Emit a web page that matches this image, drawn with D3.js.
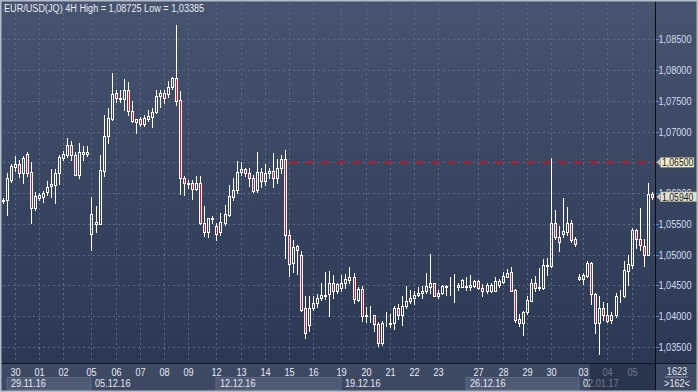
<!DOCTYPE html>
<html><head><meta charset="utf-8">
<script src="https://cdn.jsdelivr.net/npm/d3@7"></script>
<style>
html,body{margin:0;padding:0;background:#3e4a63;}
svg{display:block;}
text{font-family:"Liberation Sans",Arial,sans-serif;}
</style></head><body>
<svg id="c" width="698" height="392"></svg>
<script>
// ---- data (EUR/USD 4H candles) ----
const opens = [1.0587,1.0589,1.0621,1.0643,1.0647,1.0632,1.0663,1.0634,1.0576,1.0597,
1.0593,1.0601,1.0612,1.0613,1.0632,1.0657,1.0662,1.0678,1.0662,1.0629,
1.0663,1.0663,1.0533,1.0550,1.0550,1.0636,1.0692,1.0720,1.0762,1.0753,
1.0753,1.0768,1.0733,1.0716,1.0720,1.0712,1.0720,1.0724,1.0731,1.0757,
1.0762,1.0761,1.0772,1.0787,1.0751,1.0624,1.0615,1.0617,1.0606,1.0617,
1.0551,1.0537,1.0558,1.0546,1.0536,1.0552,1.0564,1.0594,1.0605,1.0634,
1.0639,1.0633,1.0624,1.0605,1.0634,1.0620,1.0632,1.0636,1.0625,1.0640,
1.0655,1.0531,1.0486,1.0514,1.0499,1.0413,1.0385,1.0413,1.0421,1.0429,
1.0433,1.0436,1.0454,1.0440,1.0445,1.0453,1.0459,1.0463,1.0426,1.0444,
1.0400,1.0401,1.0401,1.0387,1.0356,1.0388,1.0387,1.0389,1.0413,1.0401,
1.0417,1.0424,1.0430,1.0434,1.0437,1.0440,1.0448,1.0453,1.0433,1.0437,
1.0448,1.0447,1.0447,1.0447,1.0448,1.0447,1.0448,1.0449,1.0457,1.0445,
1.0440,1.0441,1.0441,1.0451,1.0455,1.0464,1.0471,1.0442,1.0396,1.0388,
1.0407,1.0425,1.0454,1.0445,1.0446,1.0482,1.0481,1.0551,1.0528,1.0533,
1.0537,1.0551,1.0525,1.0464,1.0460,1.0465,1.0487,1.0436,1.0389,1.0413,
1.0402,1.0393,1.0401,1.0432,1.0432,1.0474,1.0483,1.0540,1.0525,1.0514,
1.0500,1.0598];
const highs = [1.0592,1.0632,1.0648,1.0660,1.0654,1.0660,1.0666,1.0651,1.0601,1.0600,
1.0603,1.0619,1.0639,1.0639,1.0662,1.0668,1.0689,1.0685,1.0666,1.0681,
1.0677,1.0677,1.0594,1.0579,1.0662,1.0727,1.0738,1.0796,1.0767,1.0768,
1.0785,1.0781,1.0750,1.0721,1.0723,1.0727,1.0735,1.0738,1.0768,1.0767,
1.0767,1.0782,1.0789,1.08725,1.0766,1.0628,1.0621,1.0621,1.0627,1.0628,
1.0579,1.0560,1.0562,1.0551,1.0568,1.0581,1.0613,1.0624,1.0652,1.0651,
1.0641,1.0640,1.0630,1.0666,1.0640,1.0647,1.0640,1.0665,1.0655,1.0662,
1.0670,1.0540,1.0524,1.0515,1.0505,1.0432,1.0432,1.0432,1.0436,1.0454,
1.0472,1.0473,1.0467,1.0454,1.0467,1.0468,1.0480,1.0470,1.0448,1.0449,
1.0414,1.0417,1.0402,1.0391,1.0392,1.0407,1.0403,1.0417,1.0420,1.0432,
1.0449,1.0442,1.0441,1.0448,1.0449,1.0470,1.0501,1.0454,1.0442,1.0450,
1.0451,1.0464,1.0468,1.0454,1.0460,1.0464,1.0467,1.0459,1.0458,1.0452,
1.0454,1.0453,1.0464,1.0460,1.0472,1.0476,1.0479,1.0444,1.0404,1.0409,
1.0433,1.0460,1.0465,1.0478,1.0493,1.0494,1.0657,1.0572,1.0546,1.0592,
1.0577,1.0556,1.0529,1.0468,1.0470,1.0490,1.0488,1.0437,1.0432,1.0423,
1.0422,1.0407,1.0438,1.0442,1.0490,1.0500,1.0543,1.0541,1.0575,1.0525,
1.0617,1.0601];
const lows = [1.0584,1.0564,1.0618,1.0636,1.0626,1.0617,1.0628,1.0551,1.0573,1.0589,
1.0586,1.0597,1.0594,1.0584,1.0615,1.0654,1.0659,1.0654,1.0629,1.0625,
1.0654,1.0660,1.0507,1.0536,1.0549,1.0628,1.0682,1.0719,1.0748,1.0748,
1.0735,1.0727,1.0716,1.0697,1.0709,1.0709,1.0717,1.0708,1.0730,1.0740,
1.0747,1.0756,1.0770,1.0743,1.0598,1.0597,1.0608,1.0590,1.0605,1.0550,
1.0530,1.0528,1.0551,1.0524,1.0532,1.0548,1.0562,1.0589,1.0600,1.0629,
1.0627,1.0612,1.0602,1.0602,1.0610,1.0613,1.0624,1.0610,1.0617,1.0632,
1.0494,1.0465,1.0472,1.0469,1.0409,1.0365,1.0376,1.0410,1.0414,1.0426,
1.0427,1.0400,1.0429,1.0438,1.0440,1.0445,1.0454,1.0422,1.0425,1.0392,
1.0391,1.0391,1.0375,1.0352,1.0353,1.0384,1.0383,1.0379,1.0396,1.0385,
1.0413,1.0421,1.0420,1.0433,1.0430,1.0437,1.0437,1.0432,1.0429,1.0436,
1.0435,1.0434,1.0423,1.0442,1.0447,1.0442,1.0443,1.0448,1.0444,1.0432,
1.0437,1.0439,1.0440,1.0448,1.0453,1.0463,1.0440,1.0391,1.0384,1.0370,
1.0404,1.0424,1.0440,1.0443,1.0444,1.0467,1.0479,1.0526,1.0506,1.0529,
1.0532,1.0521,1.0514,1.0459,1.0452,1.0464,1.0420,1.0373,1.03385,1.0394,
1.0390,1.0389,1.0399,1.0423,1.0431,1.0450,1.0478,1.0510,1.0507,1.0481,
1.0499,1.0590];
const closes = [1.0589,1.0624,1.0644,1.0647,1.0632,1.0657,1.0633,1.0576,1.0595,1.0592,
1.0600,1.0610,1.0615,1.0632,1.0659,1.0663,1.0678,1.0662,1.0630,1.0666,
1.0667,1.0666,1.0566,1.0553,1.0637,1.0692,1.0722,1.0761,1.0754,1.0754,
1.0768,1.0733,1.0717,1.0720,1.0713,1.0722,1.0725,1.0731,1.0758,1.0763,
1.0754,1.0773,1.0787,1.0750,1.0624,1.0616,1.0617,1.0606,1.0617,1.0551,
1.0537,1.0559,1.0559,1.0534,1.0553,1.0566,1.0595,1.0605,1.0634,1.0639,
1.0632,1.0624,1.0604,1.0634,1.0619,1.0632,1.0636,1.0625,1.0640,1.0655,
1.0531,1.0484,1.0512,1.0508,1.0410,1.0372,1.0413,1.0422,1.0429,1.0434,
1.0434,1.0453,1.0440,1.0452,1.0454,1.0460,1.0463,1.0427,1.0444,1.0400,
1.0402,1.0402,1.0387,1.0356,1.0389,1.0389,1.0389,1.0413,1.0401,1.0417,
1.0425,1.0429,1.0434,1.0437,1.0441,1.0449,1.0453,1.0433,1.0438,1.0449,
1.0449,1.0448,1.0448,1.0451,1.0459,1.0449,1.0451,1.0457,1.0445,1.0440,
1.0451,1.0451,1.0457,1.0457,1.0465,1.0470,1.0441,1.0394,1.0388,1.0407,
1.0426,1.0454,1.0445,1.0448,1.0483,1.0483,1.0551,1.0528,1.0521,1.0538,
1.0551,1.0524,1.0517,1.0460,1.0467,1.0487,1.0436,1.0388,1.0413,1.0401,
1.0392,1.0402,1.0433,1.0433,1.0475,1.0484,1.0540,1.0526,1.0516,1.0500,
1.0598,1.0594];

const priceTicks = [1.035,1.040,1.045,1.050,1.055,1.060,1.070,1.075,1.080,1.085];
const gridPrices = [1.035,1.040,1.045,1.050,1.055,1.060,1.065,1.070,1.075,1.080,1.085];
const dayTickIdx = [3,9,15,22,28,34,40,46,53,59,65,71,77,84,90,96,102,108,118,124,130,136,144,150,156];
const dayTickLbl = ["30","01","02","05","06","07","08","09","12","13","14","15","16","19","20","21","22","23","27","28","29","30","03","04","05"];
const weekStartIdx = [1,22,53,84,115,143];
const weekLbl = ["29.11.16","05.12.16","12.12.16","19.12.16","26.12.16","02.01.17"];
const levelPrice = 1.065, levelStartIdx = 71;
const lastPrice = 1.0594;
const shadeStartIdx = 146;
const titleText = "EUR/USD(JQ) 4H High = 1,08725 Low = 1,03385";
const barsTotal = "1623", barsVisible = ">162<";

// ---- drawing ----
const W = 698, H = 392;
const plotR = 655, axisY = 363;
const SX = 0.83; // horizontal compression of the UI font
const svg = d3.select("#c");
const n = opens.length;
const x = d3.scaleBand().domain(d3.range(n)).range([1.3, 654.3]);
const cx = i => Math.floor(x(i) + x.bandwidth() / 2) + 0.5;
const y = d3.scaleLinear().domain([1.035, 1.085]).range([346.8, 39.3]);
const py = v => Math.round(y(v)) + 0.5;
const fmt = v => d3.format(".5f")(v).replace(".", ",");

function label(parent, tx, ty, str, fill, anchor, sx) {
  return parent.append("text")
    .attr("transform", `translate(${tx},${ty}) scale(${sx || SX},1)`)
    .attr("text-anchor", anchor || "start")
    .attr("font-size", 11).attr("fill", fill).text(str);
}

const defs = svg.append("defs");
const g = defs.append("linearGradient").attr("id", "bg").attr("x1", 0).attr("y1", 0).attr("x2", 0).attr("y2", 1);
g.append("stop").attr("offset", 0).attr("stop-color", "#47546f");
g.append("stop").attr("offset", 1).attr("stop-color", "#2b3854");

svg.append("rect").attr("width", W).attr("height", H).attr("fill", "#3e4a63");
svg.append("rect").attr("x", 0).attr("y", 0).attr("width", W).attr("height", axisY).attr("fill", "url(#bg)");

// grid
const grid = svg.append("g").attr("stroke", "#5b6985").attr("stroke-width", 1).attr("stroke-dasharray", "2,3");
grid.selectAll("line.h").data(gridPrices).join("line")
  .attr("x1", 3).attr("x2", plotR).attr("y1", d => py(d)).attr("y2", d => py(d));
grid.selectAll("line.v").data(dayTickIdx).join("line")
  .attr("x1", d => cx(d)).attr("x2", d => cx(d)).attr("y1", 3).attr("y2", axisY);

// level line
svg.append("line").attr("x1", cx(levelStartIdx)).attr("x2", plotR)
  .attr("y1", y(levelPrice)).attr("y2", y(levelPrice))
  .attr("stroke", "#cf1020").attr("stroke-width", 1.7).attr("stroke-dasharray", "8.3,7.5");

// candles
const idx = d3.range(n);
const cg = svg.append("g");
cg.selectAll("g").data(idx).join("g").each(function(i) {
  const sel = d3.select(this);
  const o = opens[i], c = closes[i], h = highs[i], l = lows[i];
  const up = c >= o;
  const top = py(Math.max(o, c)), bot = py(Math.min(o, c));
  const xc = cx(i);
  sel.append("line").attr("x1", xc).attr("x2", xc).attr("y1", py(h) - 0.5).attr("y2", top)
    .attr("stroke", "#ffffff").attr("stroke-width", 1);
  sel.append("line").attr("x1", xc).attr("x2", xc).attr("y1", bot).attr("y2", py(l) + 0.5)
    .attr("stroke", "#ffffff").attr("stroke-width", 1);
  sel.append("rect").attr("x", xc - 1).attr("y", top).attr("width", 2).attr("height", Math.max(0, bot - top))
    .attr("fill", up ? "none" : "#e3122e").attr("stroke", "#ffffff").attr("stroke-width", 1);
});

svg.append("line").attr("x1", 655.5).attr("x2", 655.5).attr("y1", 0).attr("y2", H).attr("stroke", "#0a0d14").attr("stroke-width", 1);

// right axis
const ra = svg.append("g");
ra.selectAll("line").data(gridPrices).join("line")
  .attr("x1", 656).attr("x2", 659).attr("y1", d => py(d)).attr("y2", d => py(d))
  .attr("stroke", "#4f8ad6").attr("stroke-width", 1);
priceTicks.forEach(p => label(ra, 658.5, y(p) + 4, fmt(p), "#d3ddef"));

// bottom axis band
svg.append("rect").attr("x", 0).attr("y", axisY).attr("width", W).attr("height", H - axisY).attr("fill", "#3d4862");
svg.append("line").attr("x1", 0).attr("x2", W).attr("y1", axisY + 0.5).attr("y2", axisY + 0.5).attr("stroke", "#101522");
svg.append("line").attr("x1", 655.5).attr("x2", 655.5).attr("y1", axisY).attr("y2", H).attr("stroke", "#0a0d14");

const wk = svg.append("g");
weekStartIdx.forEach((s, k) => {
  const e = k + 1 < weekStartIdx.length ? weekStartIdx[k + 1] : null;
  const x0 = cx(s) - 0.5, x1 = e === null ? plotR : cx(e) - 0.5;
  if (k % 2 === 0 && e !== null) {
    wk.append("rect").attr("x", x0).attr("y", 377.5).attr("width", x1 - x0).attr("height", 12.5)
      .attr("fill", "#4e5a73").attr("stroke", "#5c6882").attr("stroke-width", 1);
  }
  label(wk, x0 + 4, 386.7, weekLbl[k], "#e6ebf3");
});
const dl = svg.append("g");
dayTickIdx.forEach((d, k) => label(dl, cx(d), 375.6, dayTickLbl[k], "#e6ebf3", "middle"));
// shaded (current) region on the time axis
svg.append("rect").attr("x", x(shadeStartIdx)).attr("y", axisY + 1).attr("width", plotR - x(shadeStartIdx)).attr("height", H - axisY - 3)
  .attr("fill", "#1d2840").attr("opacity", 0.6);

// bottom-right counter box
const cb = svg.append("g");
label(cb, 677, 375, barsTotal, "#e6ebf3", "middle");
cb.append("line").attr("x1", 665).attr("x2", 688).attr("y1", 377).attr("y2", 377).attr("stroke", "#8c99b0");
label(cb, 677, 386.5, barsVisible, "#e6ebf3", "middle");

// price flags
function flag(p, fill, w) {
  const yc = y(p);
  const fg = svg.append("g");
  fg.append("path").attr("d", `M656.5,${yc} L661,${yc - 4.5} L661,${yc + 4.5} Z`).attr("fill", "#c4c4c0");
  fg.append("rect").attr("x", 660.5).attr("y", yc - 4.8).attr("width", w).attr("height", 9.8)
    .attr("fill", fill).attr("stroke", "#8f8c78").attr("stroke-width", 0.6);
  label(fg, 662, yc + 4, fmt(p), "#1a1a1a", "start", 0.79);
}
flag(levelPrice, "#efeacb", 33.5);
flag(lastPrice, "#e2e0d6", 36.5);

// title
label(svg, 4, 11.7, titleText, "#e9edf4");

// outer frame
svg.append("rect").attr("x", 0.75).attr("y", 0.75).attr("width", W - 1.5).attr("height", H - 1.5)
  .attr("fill", "none").attr("stroke", "#b3bcc9").attr("stroke-width", 1.5);
</script>
</body></html>
